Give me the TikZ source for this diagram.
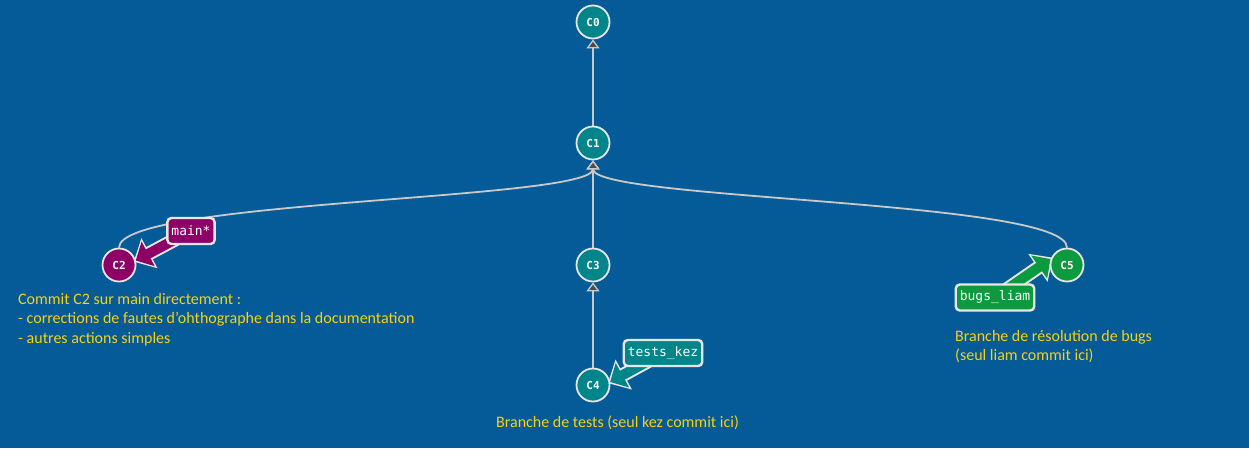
\documentclass[tikz,border=0pt]{standalone}
\usepackage{fontspec}
\setmainfont{Carlito}
\setmonofont{DejaVu Sans Mono}
\usetikzlibrary{arrows.meta,calc}
\pgfdeclarelayer{bg}
\pgfdeclarelayer{edges}
\pgfsetlayers{bg,edges,main}
\definecolor{bgblue}{HTML}{045B97}
\definecolor{committeal}{HTML}{00858A}
\definecolor{mainpurple}{HTML}{8F0066}
\definecolor{bugsgreen}{HTML}{0C9A3E}
\definecolor{edgegray}{HTML}{C9C9C9}
\definecolor{rimgray}{HTML}{E6E6E6}
\definecolor{noteyellow}{HTML}{F7D117}
\tikzset{
    commit/.style={circle, fill=#1, draw=rimgray, line width=1.8pt, minimum size=33pt, inner sep=0pt,
        text=white, font=\ttfamily\bfseries\fontsize{11}{13}\selectfont},
    commit/.default=committeal,
    edge/.style={draw=edgegray, line width=1.8pt,
        -{Triangle[length=9pt,width=13pt,fill=black!70,color=edgegray,line width=1.3pt]}},
    branchlbl/.style={rectangle, rounded corners=4pt, fill=#1, draw=rimgray, line width=2.4pt,
        minimum height=26pt, inner xsep=4pt, text=white, font=\ttfamily\fontsize{13}{15}\selectfont},
    lblarrow/.style={draw=#1, line width=10pt, -{Triangle[length=14pt,width=27pt]},
        preaction={draw=rimgray, line width=14pt, -{Triangle[length=18pt,width=33pt]}, shorten >=-2.5pt}},
    note/.style={text=noteyellow, align=left, inner sep=0pt, font=\fontsize{16}{19.4}\selectfont}
}
\begin{document}
\begin{tikzpicture}[x=1pt,y=-1pt]
      \begin{pgfonlayer}{bg}
        \fill[bgblue] (0,0) rectangle (1249,448);
      \end{pgfonlayer}
      \useasboundingbox (0,0) rectangle (1249,448);
      % commits
      \node[commit] (C0) at (593,22) {C0};
      \node[commit] (C1) at (593,143) {C1};
      \node[commit=mainpurple] (C2) at (119,265) {C2};
      \node[commit] (C3) at (593,265) {C3};
      \node[commit] (C4) at (593,385) {C4};
      \node[commit=bugsgreen] (C5) at (1067,265) {C5};
      % branch labels
      \node[branchlbl=mainpurple] (mainlbl) at (191,231) {main*};
      \node[branchlbl=committeal] (kezlbl) at (663,353) {tests\_kez};
      \node[branchlbl=bugsgreen] (liamlbl) at (995,297.5) {bugs\_liam};
      \begin{pgfonlayer}{edges}
        \draw[edge] (C1) -- (C0);
        \draw[edge] (C3) -- (C1);
        \draw[edge] (C4) -- (C3);
        \draw[edge] (C2.north) .. controls +(0,-48) and +(0,40) .. (C1.south);
        \draw[edge] (C5.north) .. controls +(0,-48) and +(0,40) .. (C1.south);
        \draw[lblarrow=mainpurple] (mainlbl.center) -- (C2.15);
        \draw[lblarrow=committeal] (kezlbl.center) -- (C4.10);
        \draw[lblarrow=bugsgreen] (liamlbl.center) -- (C5.160);
      \end{pgfonlayer}
      % notes
      \node[note, anchor=north west] (c2note) at (18,293) {Commit C2 sur main directement :\\- corrections de fautes d'ohthographe dans la documentation\\- autres actions simples};
      \node[note, anchor=north] (kezcomment) at (617.5,416) {Branche de tests (seul kez commit ici)};
      \node[note, anchor=north west] (liamnote) at (955,330) {Branche de résolution de bugs\\(seul liam commit ici)};
\end{tikzpicture}
\end{document}
